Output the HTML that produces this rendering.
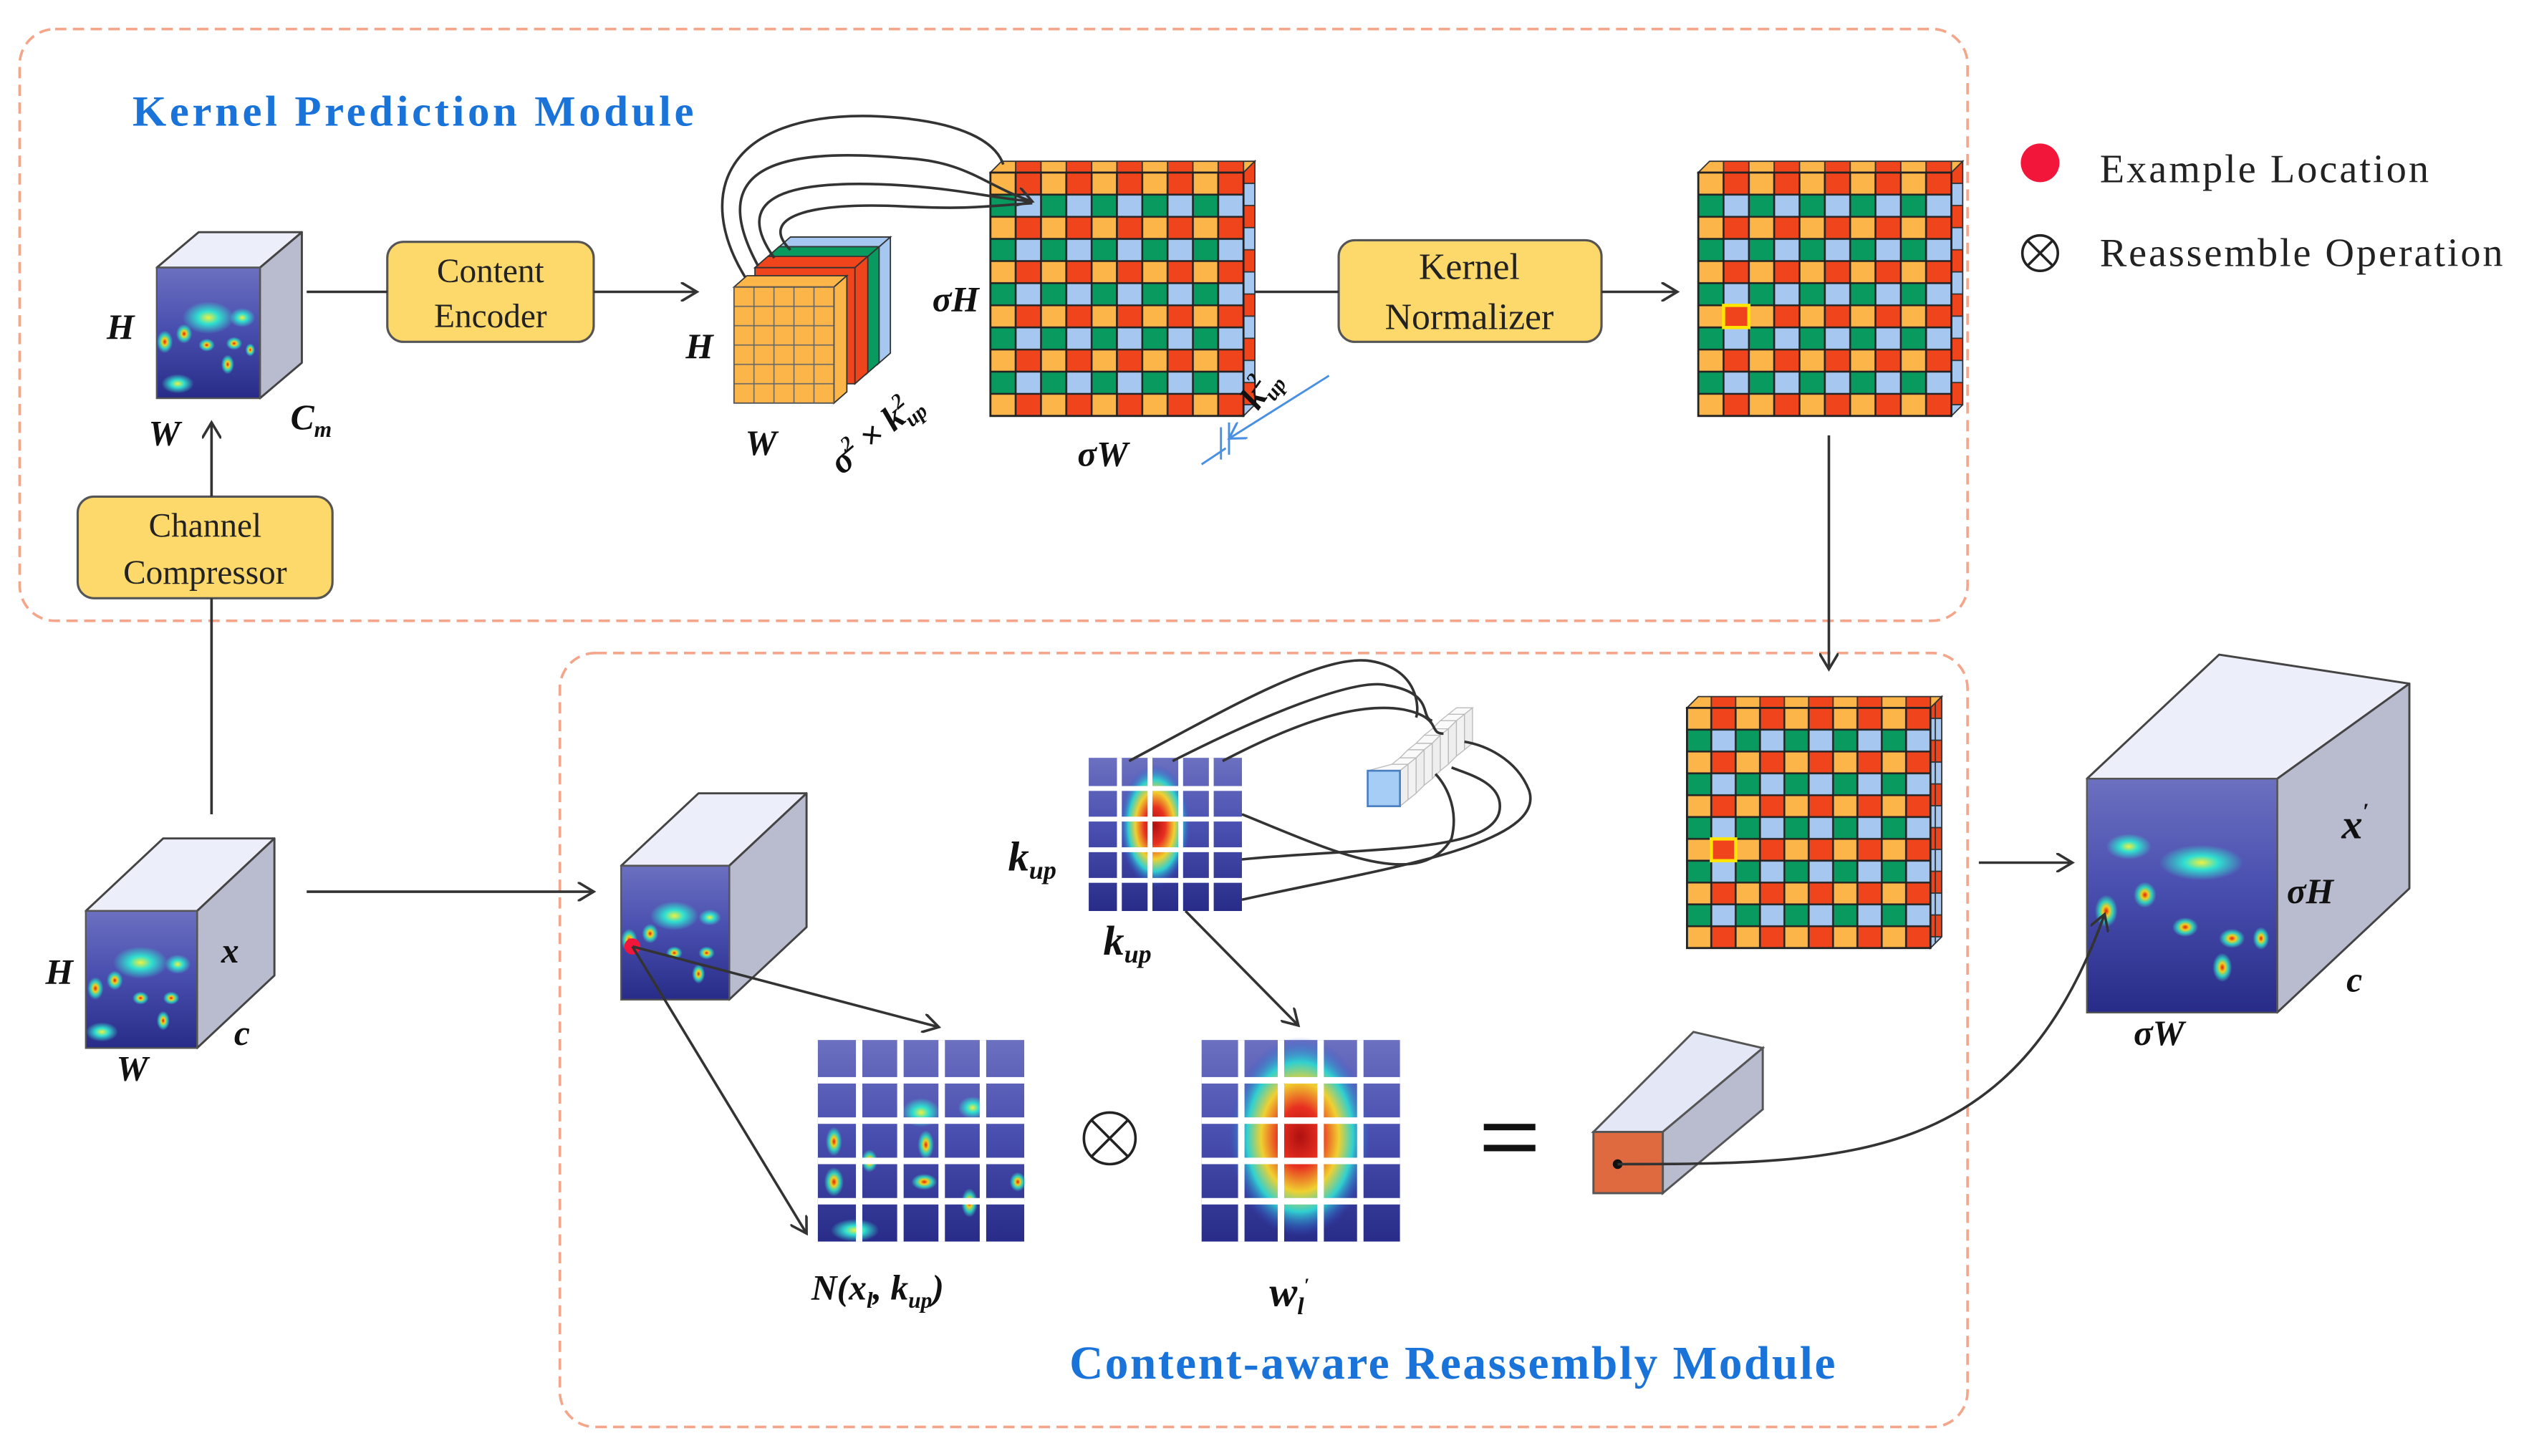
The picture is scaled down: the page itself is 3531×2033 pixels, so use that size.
<!DOCTYPE html>
<html><head><meta charset="utf-8"><style>
html,body{margin:0;padding:0;background:#fff;width:3531px;height:2033px;overflow:hidden}
svg{display:block}
text{font-family:"Liberation Serif",serif}
.m{font-weight:bold;font-style:italic}
</style></head><body>
<svg width="3531" height="2033" viewBox="0 0 1568 903" xmlns="http://www.w3.org/2000/svg">
<defs>
<marker id="ar" markerWidth="12" markerHeight="12" refX="10" refY="6" orient="auto" markerUnits="userSpaceOnUse"><path d="M0,0 L10,6 L0,12" fill="none" stroke="#333" stroke-width="1.6"/></marker>
<marker id="arb" markerWidth="12" markerHeight="12" refX="10" refY="6" orient="auto" markerUnits="userSpaceOnUse"><path d="M0,0 L10,6 L0,12" fill="none" stroke="#4a90e2" stroke-width="1.4"/></marker>
<linearGradient id="hmbg" x1="0" y1="0" x2="0" y2="1"><stop offset="0" stop-color="#6c70c0"/><stop offset="0.45" stop-color="#4a50b0"/><stop offset="1" stop-color="#282c88"/></linearGradient>
<radialGradient id="blob"><stop offset="0" stop-color="#e02010"/><stop offset="0.3" stop-color="#f0d020"/><stop offset="0.6" stop-color="#30d0c0"/><stop offset="1" stop-color="#30d0c0" stop-opacity="0"/></radialGradient>
<radialGradient id="blobc"><stop offset="0" stop-color="#f0f040"/><stop offset="0.4" stop-color="#30e0d0"/><stop offset="1" stop-color="#30e0d0" stop-opacity="0"/></radialGradient>
<radialGradient id="bigk"><stop offset="0" stop-color="#b01010"/><stop offset="0.3" stop-color="#e83020"/><stop offset="0.55" stop-color="#f0d030"/><stop offset="0.75" stop-color="#30d0d0"/><stop offset="1" stop-color="#3050d0" stop-opacity="0"/></radialGradient>
<pattern id="g1" patternUnits="userSpaceOnUse" x="614" y="107" width="31.4" height="27.45">
<rect x="0" y="0" width="15.7" height="13.73" fill="#fbb548" stroke="#222" stroke-width="1.1"/><rect x="15.7" y="0" width="15.7" height="13.73" fill="#f0441c" stroke="#222" stroke-width="1.1"/>
<rect x="0" y="13.73" width="15.7" height="13.73" fill="#089a5e" stroke="#222" stroke-width="1.1"/><rect x="15.7" y="13.73" width="15.7" height="13.73" fill="#a6c8f0" stroke="#222" stroke-width="1.1"/></pattern>
<pattern id="g2" href="#g1" x="1053" y="107"/>
<pattern id="g3" patternUnits="userSpaceOnUse" x="1046" y="439" width="30.2" height="27.09">
<rect x="0" y="0" width="15.1" height="13.545" fill="#fbb548" stroke="#222" stroke-width="1.1"/><rect x="15.1" y="0" width="15.1" height="13.545" fill="#f0441c" stroke="#222" stroke-width="1.1"/>
<rect x="0" y="13.545" width="15.1" height="13.545" fill="#089a5e" stroke="#222" stroke-width="1.1"/><rect x="15.1" y="13.545" width="15.1" height="13.545" fill="#a6c8f0" stroke="#222" stroke-width="1.1"/></pattern>
<pattern id="top1" patternUnits="userSpaceOnUse" x="614" y="0" width="31.4" height="10"><rect width="15.7" height="10" fill="#fbb548" stroke="#333" stroke-width="0.8"/><rect x="15.7" width="15.7" height="10" fill="#f0441c" stroke="#333" stroke-width="0.8"/></pattern>
<pattern id="top2" href="#top1" x="1053"/>
<pattern id="top3" patternUnits="userSpaceOnUse" x="1046" y="0" width="30.2" height="10"><rect width="15.1" height="10" fill="#fbb548" stroke="#333" stroke-width="0.8"/><rect x="15.1" width="15.1" height="10" fill="#f0441c" stroke="#333" stroke-width="0.8"/></pattern>
<pattern id="side1" patternUnits="userSpaceOnUse" x="0" y="100" width="10" height="27.45"><rect width="10" height="13.73" fill="#f0441c" stroke="#333" stroke-width="0.8"/><rect y="13.73" width="10" height="13.73" fill="#a6c8f0" stroke="#333" stroke-width="0.8"/></pattern>
<pattern id="side3" patternUnits="userSpaceOnUse" x="0" y="432" width="10" height="27.09"><rect width="10" height="13.545" fill="#f0441c" stroke="#333" stroke-width="0.8"/><rect y="13.545" width="10" height="13.545" fill="#a6c8f0" stroke="#333" stroke-width="0.8"/></pattern>
<pattern id="og" patternUnits="userSpaceOnUse" x="455" y="178" width="12.4" height="12"><rect width="12.4" height="12" fill="#fbb548" stroke="#666" stroke-width="0.7"/></pattern>
</defs>

<rect x="12" y="18" width="1208" height="367" rx="22" fill="none" stroke="#f4a58a" stroke-width="1.6" stroke-dasharray="7,4"/>
<rect x="347" y="405" width="873" height="480" rx="22" fill="none" stroke="#f4a58a" stroke-width="1.6" stroke-dasharray="7,4"/>
<text x="82" y="78" font-size="27" font-weight="bold" fill="#1a73d9" textLength="348">Kernel Prediction Module</text>
<text x="663" y="855" font-size="29" font-weight="bold" fill="#1a73d9" textLength="475">Content-aware Reassembly Module</text>
<circle cx="1265" cy="101" r="12" fill="#f2163b"/>
<text x="1302" y="113" font-size="25" fill="#222" textLength="204">Example Location</text>
<circle cx="1265" cy="157" r="11" fill="none" stroke="#222" stroke-width="1.6"/>
<path d="M1257.2,149.2 L1272.8,164.8 M1272.8,149.2 L1257.2,164.8" stroke="#222" stroke-width="1.6"/>
<text x="1302" y="165" font-size="25" fill="#222" textLength="250">Reassemble Operation</text>

<g stroke="#444" stroke-width="1.3" stroke-linejoin="round">
<polygon points="97,166 123,144 187,144 161,166" fill="#eceef9"/>
<polygon points="161,166 187,144 187,225 161,247" fill="#b9bccf"/>
<polygon points="53,565 101,520 170,520 122,565" fill="#eceef9"/>
<polygon points="122,565 170,520 170,605 122,650" fill="#b9bccf"/>
<polygon points="385,537 433,492 500,492 452,537" fill="#eceef9"/>
<polygon points="452,537 500,492 500,575 452,620" fill="#b9bccf"/>
<polygon points="1294,483 1376,406 1494,424 1412,483" fill="#eceef9"/>
<polygon points="1412,483 1494,424 1494,551 1412,628" fill="#b9bccf"/>
</g>
<rect x="97" y="166" width="64" height="81" fill="url(#hmbg)"/>
<rect x="53" y="565" width="69" height="85" fill="url(#hmbg)"/>
<rect x="385" y="537" width="67" height="83" fill="url(#hmbg)"/>
<rect x="1294" y="483" width="118" height="145" fill="url(#hmbg)"/>
<g fill="url(#blobc)">
<ellipse cx="129" cy="197" rx="16" ry="10"/><ellipse cx="150" cy="197" rx="8" ry="6"/><ellipse cx="110" cy="238" rx="10" ry="6"/>
<ellipse cx="87" cy="597" rx="17" ry="10"/><ellipse cx="110" cy="598" rx="8" ry="6"/><ellipse cx="63" cy="640" rx="10" ry="6"/>
<ellipse cx="418" cy="568" rx="15" ry="9"/><ellipse cx="440" cy="569" rx="7" ry="5"/>
<ellipse cx="1365" cy="535" rx="26" ry="11"/><ellipse cx="1320" cy="525" rx="14" ry="8"/>
</g>
<g fill="url(#blob)">
<ellipse cx="102" cy="212" rx="5" ry="7"/><ellipse cx="114" cy="207" rx="5" ry="6"/><ellipse cx="128" cy="214" rx="5" ry="4"/><ellipse cx="145" cy="213" rx="5" ry="4"/><ellipse cx="141" cy="226" rx="4" ry="6"/><ellipse cx="155" cy="217" rx="3" ry="4"/>
<ellipse cx="59" cy="613" rx="5" ry="7"/><ellipse cx="71" cy="608" rx="5" ry="6"/><ellipse cx="87" cy="619" rx="5" ry="4"/><ellipse cx="106" cy="619" rx="5" ry="4"/><ellipse cx="101" cy="633" rx="4" ry="6"/>
<ellipse cx="390" cy="583" rx="5" ry="7"/><ellipse cx="403" cy="579" rx="5" ry="6"/><ellipse cx="418" cy="591" rx="5" ry="4"/><ellipse cx="438" cy="591" rx="5" ry="4"/><ellipse cx="433" cy="604" rx="4" ry="6"/>
<ellipse cx="1306" cy="565" rx="7" ry="10"/><ellipse cx="1330" cy="555" rx="7" ry="8"/><ellipse cx="1355" cy="575" rx="8" ry="6"/><ellipse cx="1384" cy="582" rx="8" ry="6"/><ellipse cx="1378" cy="600" rx="6" ry="9"/><ellipse cx="1402" cy="582" rx="5" ry="7"/>
</g>
<g fill="none" stroke="#555" stroke-width="1">
<rect x="97" y="166" width="64" height="81"/><rect x="53" y="565" width="69" height="85"/><rect x="385" y="537" width="67" height="83"/><rect x="1294" y="483" width="118" height="145"/>
</g>
<circle cx="392" cy="587" r="5" fill="#f2163b"/>

<polygon points="614,107 621,100 778,100 771,107" fill="url(#top1)" stroke="#333" stroke-width="0.8"/>
<polygon points="771,107 778,100 778,251 771,258" fill="url(#side1)" stroke="#333" stroke-width="0.8"/>
<rect x="614" y="107" width="157" height="151" fill="url(#g1)" stroke="#222" stroke-width="1.2"/>
<polygon points="1053,107 1060,100 1217,100 1210,107" fill="url(#top2)" stroke="#333" stroke-width="0.8"/>
<polygon points="1210,107 1217,100 1217,251 1210,258" fill="url(#side1)" stroke="#333" stroke-width="0.8"/>
<rect x="1053" y="107" width="157" height="151" fill="url(#g2)" stroke="#222" stroke-width="1.2"/>
<rect x="1068.7" y="189.4" width="15.7" height="13.73" fill="none" stroke="#ffe600" stroke-width="2"/>
<polygon points="1046,439 1053,432 1204,432 1197,439" fill="url(#top3)" stroke="#333" stroke-width="0.8"/>
<polygon points="1197,439 1204,432 1204,581 1197,588" fill="url(#side3)" stroke="#333" stroke-width="0.8"/>
<rect x="1046" y="439" width="151" height="149" fill="url(#g3)" stroke="#222" stroke-width="1.2"/>
<rect x="1061.1" y="520.3" width="15.1" height="13.5" fill="none" stroke="#ffe600" stroke-width="2"/>

<g stroke="#333" stroke-width="0.8">
<polygon points="482,154 490,147 552,147 544,154" fill="#a6c8f0"/><polygon points="544,154 552,147 552,219 544,226" fill="#a6c8f0"/><rect x="482" y="154" width="62" height="72" fill="#a6c8f0"/>
<polygon points="475,160 483,153 545,153 537,160" fill="#089a5e"/><polygon points="537,160 545,153 545,225 537,232" fill="#089a5e"/><rect x="475" y="160" width="62" height="72" fill="#089a5e"/>
<polygon points="468,166 476,159 538,159 530,166" fill="#f0441c"/><polygon points="530,166 538,159 538,231 530,238" fill="#f0441c"/><rect x="468" y="166" width="62" height="72" fill="#f0441c"/>
<polygon points="455,178 463,171 525,171 517,178" fill="#fbb548"/><polygon points="517,178 525,171 525,243 517,250" fill="#fbb548"/>
</g>
<rect x="455" y="178" width="62" height="72" fill="url(#og)" stroke="#555" stroke-width="0.8"/>

<rect x="675" y="470" width="95" height="95" fill="url(#hmbg)"/>
<ellipse cx="716" cy="512" rx="22" ry="38" fill="url(#bigk)"/>
<g fill="#fff"><rect x="692.5" y="470" width="3" height="95"/><rect x="711.5" y="470" width="3" height="95"/><rect x="730.5" y="470" width="3" height="95"/><rect x="749.5" y="470" width="3" height="95"/>
<rect x="675" y="487.5" width="95" height="3"/><rect x="675" y="506.5" width="95" height="3"/><rect x="675" y="525.5" width="95" height="3"/><rect x="675" y="544.5" width="95" height="3"/></g>

<rect x="507" y="645" width="128" height="125" fill="url(#hmbg)"/>
<g fill="url(#blobc)"><ellipse cx="571" cy="690" rx="12" ry="9"/><ellipse cx="603" cy="687" rx="9" ry="7"/><ellipse cx="530" cy="763" rx="15" ry="7"/></g>
<g fill="url(#blob)"><ellipse cx="517" cy="708" rx="5" ry="9"/><ellipse cx="539" cy="720" rx="5" ry="7"/><ellipse cx="574" cy="710" rx="5" ry="9"/><ellipse cx="517" cy="733" rx="6" ry="9"/><ellipse cx="573" cy="733" rx="8" ry="5"/><ellipse cx="631" cy="733" rx="5" ry="6"/><ellipse cx="601" cy="746" rx="5" ry="9"/></g>
<g fill="#fff"><rect x="530.6" y="645" width="4" height="125"/><rect x="556.2" y="645" width="4" height="125"/><rect x="581.8" y="645" width="4" height="125"/><rect x="607.4" y="645" width="4" height="125"/>
<rect x="507" y="668" width="128" height="4"/><rect x="507" y="693" width="128" height="4"/><rect x="507" y="718" width="128" height="4"/><rect x="507" y="743" width="128" height="4"/></g>

<rect x="745" y="645" width="123" height="125" fill="url(#hmbg)"/>
<ellipse cx="806" cy="705" rx="44" ry="62" fill="url(#bigk)"/>
<g fill="#fff"><rect x="767.6" y="645" width="4" height="125"/><rect x="792.2" y="645" width="4" height="125"/><rect x="816.8" y="645" width="4" height="125"/><rect x="841.4" y="645" width="4" height="125"/>
<rect x="745" y="668" width="123" height="4"/><rect x="745" y="693" width="123" height="4"/><rect x="745" y="718" width="123" height="4"/><rect x="745" y="743" width="123" height="4"/></g>

<g stroke="#bbb" stroke-width="0.6">
<polygon points="898,443 903,439 913,439 908,443" fill="#fafafa"/><polygon points="908,443 913,439 913,461 908,465" fill="#eee"/>
<polygon points="893,447 898,443 908,443 903,447" fill="#fafafa"/><polygon points="903,447 908,443 908,465 903,469" fill="#f2f2f2"/>
<polygon points="888,452 893,447 903,447 898,452" fill="#fafafa"/><polygon points="898,452 903,447 903,469 898,474" fill="#eee"/>
<polygon points="883,456 888,452 898,452 893,456" fill="#fafafa"/><polygon points="893,456 898,452 898,474 893,478" fill="#f2f2f2"/>
<polygon points="878,461 883,456 893,456 888,461" fill="#fafafa"/><polygon points="888,461 893,456 893,478 888,483" fill="#eee"/>
<polygon points="873,465 878,461 888,461 883,465" fill="#fafafa"/><polygon points="883,465 888,461 888,483 883,487" fill="#f2f2f2"/>
<polygon points="868,470 873,465 883,465 878,470" fill="#fafafa"/><polygon points="878,470 883,465 883,487 878,492" fill="#eee"/>
<polygon points="863,474 868,470 878,470 873,474" fill="#fafafa"/><polygon points="873,474 878,470 878,492 873,496" fill="#f2f2f2"/>
<polygon points="848,478 863,474 873,474 868,478" fill="#fafafa"/><polygon points="868,478 873,474 873,496 868,500" fill="#eee"/>
</g>
<rect x="848" y="478" width="20" height="22" fill="#a6cdf5" stroke="#4a80c0" stroke-width="1.2"/>

<polygon points="988,702 1050,640 1093,650 1031,702" fill="#e4e8f6" stroke="#555" stroke-width="1.3"/>
<polygon points="1031,702 1093,650 1093,688 1031,740" fill="#b9bccf" stroke="#555" stroke-width="1.3"/>
<rect x="988" y="702" width="43" height="38" fill="#e06a40" stroke="#555" stroke-width="1.3"/>
<circle cx="1003" cy="722" r="3" fill="#111"/>

<g font-size="21" fill="#222" text-anchor="middle">
<rect x="240" y="150" width="128" height="62" rx="10" fill="#fdd86a" stroke="#555" stroke-width="1.4"/>
<text x="304" y="175">Content</text><text x="304" y="203">Encoder</text>
<rect x="48" y="308" width="158" height="63" rx="10" fill="#fdd86a" stroke="#555" stroke-width="1.4"/>
<text x="127" y="333">Channel</text><text x="127" y="362">Compressor</text>
<rect x="830" y="149" width="163" height="63" rx="10" fill="#fdd86a" stroke="#555" stroke-width="1.4"/>
<text x="911" y="173" font-size="23">Kernel</text><text x="911" y="204" font-size="23">Normalizer</text>
</g>

<g stroke="#333" stroke-width="1.6" fill="none">
<line x1="190" y1="181" x2="240" y2="181"/>
<line x1="368" y1="181" x2="432" y2="181" marker-end="url(#ar)"/>
<line x1="131" y1="308" x2="131" y2="262" marker-end="url(#ar)"/>
<line x1="131" y1="505" x2="131" y2="371"/>
<line x1="778" y1="181" x2="830" y2="181"/>
<line x1="993" y1="181" x2="1040" y2="181" marker-end="url(#ar)"/>
<line x1="1134" y1="270" x2="1134" y2="415" marker-end="url(#ar)"/>
<line x1="1227" y1="535" x2="1285" y2="535" marker-end="url(#ar)"/>
<line x1="190" y1="553" x2="368" y2="553" marker-end="url(#ar)"/>
<line x1="392" y1="587" x2="582" y2="637" marker-end="url(#ar)"/>
<line x1="392" y1="587" x2="500" y2="765" marker-end="url(#ar)"/>
<line x1="735" y1="565" x2="805" y2="636" marker-end="url(#ar)"/>
<path d="M1003,722 C1150,722 1250,720 1305,567" marker-end="url(#ar)"/>
<path d="M462,172 C430,120 450,70 540,72 C600,74 618,90 622,102"/>
<path d="M470,165 C440,110 470,90 560,98 C600,100 610,115 640,125" marker-end="url(#ar)"/>
<path d="M480,160 C455,125 480,110 560,115 C600,118 610,122 640,125"/>
<path d="M490,155 C470,135 500,125 560,128 C600,130 610,128 640,126"/>
<path d="M700,472 C760,440 820,405 850,410 C880,415 880,440 878,445"/>
<path d="M727,472 C780,445 840,420 860,425 C890,430 880,445 888,447"/>
<path d="M758,472 C800,450 840,435 870,440 C895,445 885,455 895,455"/>
<path d="M770,505 C820,525 880,555 900,520 C905,500 895,485 890,480"/>
<path d="M770,533 C850,525 930,530 930,500 C930,485 910,480 900,476"/>
<path d="M770,558 C850,540 960,525 948,490 C940,470 920,462 908,460"/>
</g>
<g stroke="#4a90e2" stroke-width="1.3" fill="none">
<line x1="824" y1="233" x2="762" y2="272" marker-end="url(#arb)"/>
<line x1="745" y1="288" x2="760" y2="278"/>
<line x1="757" y1="265" x2="757" y2="285"/><line x1="762" y1="262" x2="762" y2="282"/>
</g>
<rect x="920" y="697" width="32" height="4" fill="#111"/><rect x="920" y="710" width="32" height="4" fill="#111"/>
<circle cx="688" cy="706" r="16" fill="none" stroke="#222" stroke-width="1.6"/>
<path d="M676.7,694.7 L699.3,717.3 M699.3,694.7 L676.7,717.3" stroke="#222" stroke-width="1.6"/>

<g fill="#111" font-size="22">
<text x="66" y="210" class="m">H</text>
<text x="92" y="276" class="m">W</text>
<text x="180" y="266" class="m">C<tspan font-size="14" dy="5">m</tspan></text>
<text x="425" y="222" class="m">H</text>
<text x="462" y="282" class="m">W</text>
<text class="m" transform="translate(522,295) rotate(-40)">σ<tspan font-size="13" dy="-9">2</tspan><tspan dy="9"> × k</tspan><tspan font-size="13" dy="-9">2</tspan><tspan font-size="13" dx="-7" dy="14">up</tspan></text>
<text x="578" y="193" class="m">σH</text>
<text x="668" y="289" class="m">σW</text>
<text class="m" transform="translate(780,255) rotate(-55)">k<tspan font-size="13" dy="-9">2</tspan><tspan font-size="13" dx="-7" dy="14">up</tspan></text>
<text x="28" y="610" class="m">H</text>
<text x="137" y="597" class="m">x</text>
<text x="145" y="648" class="m">c</text>
<text x="72" y="670" class="m">W</text>
<text x="625" y="540" class="m" font-size="26">k<tspan font-size="16" dy="5">up</tspan></text>
<text x="684" y="592" class="m" font-size="26">k<tspan font-size="16" dy="5">up</tspan></text>
<text x="503" y="806" class="m">N(x<tspan font-size="14" dy="5">l</tspan><tspan dy="-5">, k</tspan><tspan font-size="14" dy="5">up</tspan><tspan dy="-5">)</tspan></text>
<text x="787" y="810" class="m" font-size="26">w<tspan font-size="15" dy="5">l</tspan><tspan font-size="12" dy="-14">′</tspan></text>
<text x="1452" y="520" class="m" font-size="26">x<tspan font-size="14" dy="-12">′</tspan></text>
<text x="1418" y="560" class="m">σH</text>
<text x="1455" y="615" class="m">c</text>
<text x="1323" y="648" class="m">σW</text>
</g>
</svg>
</body></html>
